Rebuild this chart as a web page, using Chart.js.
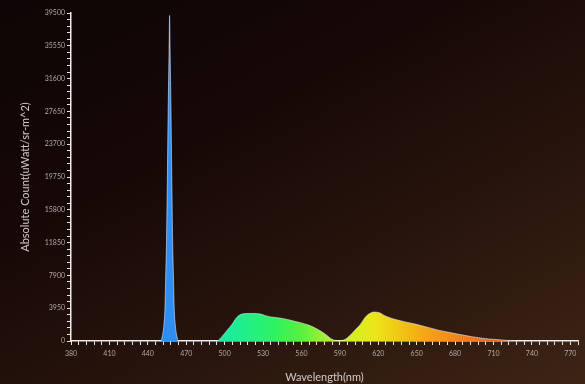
<!DOCTYPE html>
<html>
<head>
<meta charset="utf-8">
<script src="https://cdn.jsdelivr.net/npm/chart.js@4/dist/chart.umd.min.js"></script>
<style>
  html, body { margin: 0; padding: 0; }
  body {
    width: 585px; height: 384px; overflow: hidden;
    background: linear-gradient(152deg, #0d0505 0%, #170807 35%, #27140c 65%, #3d2515 100%);
  }
  canvas { display: block; }
</style>
</head>
<body>
<canvas id="spectrum" width="585" height="384"></canvas>
<script>
// Emission spectrum: wavelength (nm) and absolute count
const wavelengths = [
  380, 440, 450, 451.6, 452.6, 453.4, 453.9, 454.6, 455.3, 456, 456.6, 457,
  457.4, 458, 458.7, 459.4, 460.1, 460.6, 461.4, 462.4, 464, 490, 494,
  498, 502, 506, 509, 512, 515, 520, 525, 528, 532, 536, 543, 549, 554,
  560, 565, 570, 575, 579, 582, 585, 588, 591, 594, 597, 600, 603, 606,
  610, 614, 617, 621, 625, 630, 635, 641, 647, 654, 661, 667, 674, 680,
  686, 693, 700, 706, 713, 720, 726, 732, 776
];
const counts = [
  0, 0, 0, 800, 2000, 4000, 7300, 12000, 20000, 29000, 35000, 39200,
  35000, 29000, 20000, 12000, 7300, 4000, 2000, 800, 0, 0, 0,
  550, 1300, 2050, 2750, 3150, 3280, 3320, 3300, 3250, 3050, 2900, 2770, 2600, 2400,
  2180, 1950, 1620, 1200, 780, 400, 130, 60, 60, 180, 550, 1000, 1500, 2000,
  2900, 3380, 3490, 3400, 3050, 2750, 2530, 2300, 2100, 1830, 1550, 1300, 1080, 890,
  720, 520, 360, 250, 170, 80, 30, 0, 0
];

// Axis ranges, minor tick steps and labelled steps
const xRange = [380, 776];
const xMinorStep = 6;
const xLabelStep = 30;
const yRange = [0, 39500];
const yMinorStep = 790;
const yLabelStep = 3950;

// Colour of the fill along the wavelength axis
const spectrumStops = [
  [440, '#2f8ef2'], [466, '#2f8ef2'], [490, '#14e4a8'], [500, '#18eca0'],
  [520, '#22f084'], [540, '#30f260'], [560, '#5af040'], [580, '#a8f030'],
  [600, '#d4f020'], [618, '#ece418'], [640, '#f2c014'], [665, '#f49a18'],
  [690, '#f27a1e'], [720, '#e8621e']
];

const points = wavelengths.map((w, i) => ({ x: w, y: counts[i] }));

function spectrumFill(context) {
  const chart = context.chart;
  const area = chart.chartArea;
  if (!area) return '#2f8ef2';
  const xs = chart.scales.x;
  const g = chart.ctx.createLinearGradient(area.left, 0, area.right, 0);
  const w = area.right - area.left;
  spectrumStops.forEach(([nm, col]) => {
    const f = (xs.getPixelForValue(nm) - area.left) / w;
    g.addColorStop(Math.min(1, Math.max(0, f)), col);
  });
  return g;
}

const tickFont = { family: 'Lato, "DejaVu Sans", sans-serif', size: 7 };
const titleFont = { family: 'Lato, "DejaVu Sans", sans-serif', size: 11 };

new Chart(document.getElementById('spectrum'), {
  type: 'line',
  data: {
    datasets: [{
      data: points,
      fill: 'origin',
      backgroundColor: spectrumFill,
      borderColor: 'rgba(235,240,255,0.55)',
      borderWidth: 1,
      pointRadius: 0,
      cubicInterpolationMode: 'monotone'
    }]
  },
  options: {
    responsive: false,
    animation: false,
    devicePixelRatio: 1,
    layout: { padding: { top: 13, right: 7, bottom: 0, left: 0 } },
    plugins: { legend: { display: false }, tooltip: { enabled: false } },
    scales: {
      x: {
        type: 'linear',
        min: xRange[0],
        max: xRange[1],
        afterFit: (s) => { s.height = 43; },
        ticks: {
          stepSize: xMinorStep,
          autoSkip: false,
          maxRotation: 0,
          padding: 5,
          color: '#b0a8a4',
          font: tickFont,
          callback: (v) => (Math.round(v - xRange[0]) % xLabelStep === 0 ? String(Math.round(v)) : '')
        },
        grid: { drawOnChartArea: false, drawTicks: true, tickLength: 4, color: '#e8e4e2', lineWidth: 1 },
        border: { display: true, color: '#f0eeee', width: 1.5 },
        title: {
          display: true,
          text: 'Wavelength(nm)',
          color: '#d2cac6',
          font: titleFont,
          padding: { top: 0, bottom: 0 }
        }
      },
      y: {
        type: 'linear',
        min: yRange[0],
        max: yRange[1],
        afterFit: (s) => { s.width = 71; },
        ticks: {
          stepSize: yMinorStep,
          autoSkip: false,
          padding: 2,
          color: '#b0a8a4',
          font: tickFont,
          callback: (v) => (Math.round(v) % yLabelStep === 0 ? String(Math.round(v)) : '')
        },
        grid: { drawOnChartArea: false, drawTicks: true, tickLength: 4, color: '#e8e4e2', lineWidth: 1 },
        border: { display: true, color: '#f0eeee', width: 1.5 },
        title: {
          display: true,
          text: 'Absolute Count(uWatt/sr-m^2)',
          color: '#d2cac6',
          font: titleFont,
          padding: { top: 19, bottom: 0 }
        }
      }
    }
  }
});
</script>
</body>
</html>
